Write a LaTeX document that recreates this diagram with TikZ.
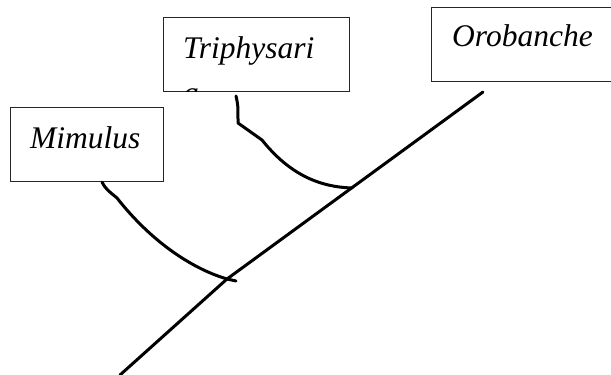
\documentclass[tikz,border=0pt]{standalone}
\usepackage{fontspec}
\setmainfont{Liberation Serif}
\begin{document}
\begin{tikzpicture}[x=1pt,y=-1pt,
  box/.style={draw=black!85, line width=1pt, inner sep=0pt, anchor=north west},
  lbl/.style={font=\fontsize{31.5}{41}\selectfont\itshape, anchor=base west, inner sep=0pt},
  branch/.style={line width=3pt, line cap=round, line join=round}]
\useasboundingbox (0,0) rectangle (611,375);
\fill[white] (0,0) rectangle (611,375);
% boxes
\node[box, minimum width=153pt, minimum height=74pt] (mbox) at (10,107) {};
\node[box, minimum width=186pt, minimum height=74pt] (tbox) at (163,17) {};
\node[box, minimum width=190pt, minimum height=74pt] (obox) at (431,7) {};
% labels
\node[lbl] (mtext) at (30,148) {Mimulus};
\node[lbl] (otext) at (452,46) {Orobanche};
\begin{scope}
  \clip (163,17) rectangle (349,91);
  \node[lbl] (ttext) at (183,58) {Triphysari};
  \node[lbl] (ttext2) at (183,103) {a};
\end{scope}
% tree
\coordinate (root) at (120,375);
\coordinate (j1) at (227,279);
\coordinate (j2) at (352,188);
\coordinate (tip) at (483,92);
\draw[branch] (root) -- (j1) -- (tip);
\coordinate (ms) at (102,182);
\coordinate (ts) at (236,96);
\draw[branch] (ms) .. controls (106,190) and (110,192) .. (117,198) .. controls (150,240) and (190,268) .. (j1) -- (236,281);
\draw[branch] (ts) .. controls (238,105) .. (238,123) -- (262,140) .. controls (290,175) and (320,187) .. (j2);
\end{tikzpicture}
\end{document}
